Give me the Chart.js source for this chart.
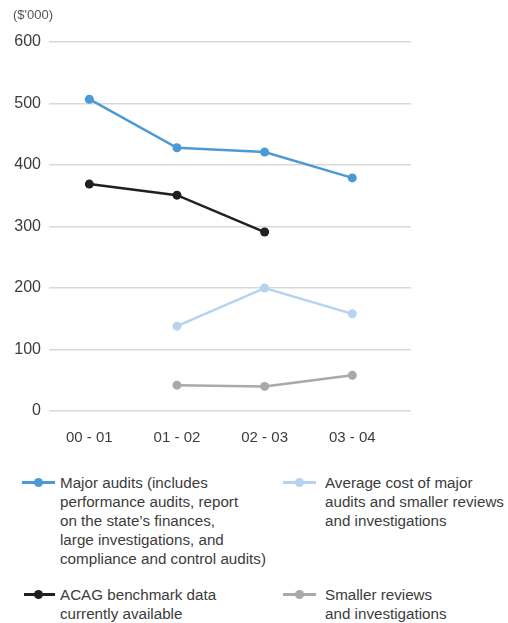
<!DOCTYPE html>
<html>
<head>
<meta charset="utf-8">
<script src="https://cdn.jsdelivr.net/npm/chart.js@4.4.0/dist/chart.umd.min.js"></script>
<style>
  body { margin: 0; background: #fff; font-family: "Liberation Sans", Arial, sans-serif; color: #3c3c3c; }
  #wrap { position: relative; width: 508px; height: 623px; }
  #chart { position: absolute; left: 0; top: 0; }
  .unit { position: absolute; left: 13px; top: 7px; font-size: 13px; color: #555; }
  .item { position: absolute; font-size: 15.2px; line-height: 19px; }
  .item .key { position: absolute; top: 8px; height: 2.5px; }
  .item .key i { position: absolute; top: -3.25px; width: 9px; height: 9px; border-radius: 50%; }
</style>
</head>
<body>
<div id="wrap">
  <canvas id="chart" width="508" height="460"></canvas>
  <div class="unit">($'000)</div>
  <div id="legend"></div>
</div>
<script>
// categories (financial years)
var years = ['00 - 01', '01 - 02', '02 - 03', '03 - 04'];

// series values, $'000
var majorAudits = [507, 428, 421, 379];
var acagBenchmark = [369, 351, 291, null];
var averageCost = [null, 138, 200, 158];
var smallerReviews = [null, 42, 40, 58];

var yTicks = [0, 100, 200, 300, 400, 500, 600];

var series = [
    { label: ['Major audits (includes', 'performance audits, report', 'on the state\u2019s finances,', 'large investigations, and', 'compliance and control audits)'],
      data: majorAudits, color: '#4b9ad5', width: 2.5, pos: [22, 473] },
    { label: ['Average cost of major', 'audits and smaller reviews', 'and investigations'],
      data: averageCost, color: '#b6d4ef', width: 2.5, pos: [283, 473] },
    { label: ['ACAG benchmark data', 'currently available'],
      data: acagBenchmark, color: '#231f20', width: 2.5, pos: [24, 585] },
    { label: ['Smaller reviews', 'and investigations'],
      data: smallerReviews, color: '#a8a9ad', width: 2.5, pos: [283, 585] }
];

function toPoints(arr) {
    var pts = [];
    arr.forEach(function (v, i) {
        if (v !== null) pts.push({ x: i, y: v });
    });
    return pts;
}

var ctx = document.getElementById('chart').getContext('2d');
var myChart = new Chart(ctx, {
    type: 'line',
    data: {
        datasets: series.map(function (s) {
            return {
                label: s.label.join(' '),
                data: toPoints(s.data),
                borderColor: s.color,
                backgroundColor: s.color,
                borderWidth: s.width,
                pointRadius: 4.5,
                pointBorderWidth: 0,
                tension: 0
            };
        })
    },
    options: {
        responsive: false,
        animation: false,
        layout: { padding: { top: 42, right: 97, bottom: 9, left: 0 } },
        plugins: { legend: { display: false }, tooltip: { enabled: false } },
        scales: {
            x: {
                type: 'linear',
                min: -0.46,
                max: 3.67,
                afterBuildTicks: function (s) {
                    s.ticks = years.map(function (y, i) { return { value: i }; });
                },
                afterFit: function (s) { s.height = 40; },
                grid: { display: false },
                border: { display: false },
                ticks: {
                    padding: 10,
                    color: '#3c3c3c',
                    font: { family: 'Liberation Sans', size: 15 },
                    callback: function (v) { return years[v]; }
                }
            },
            y: {
                min: 0,
                max: 600,
                afterBuildTicks: function (s) {
                    s.ticks = yTicks.map(function (v) { return { value: v }; });
                },
                afterFit: function (s) { s.width = 49; },
                grid: { color: '#d9d9d9', lineWidth: 1.5, drawTicks: false },
                border: { display: false },
                ticks: {
                    padding: 8,
                    color: '#3c3c3c',
                    font: { family: 'Liberation Sans', size: 16 }
                }
            }
        }
    }
});

// legend below the plot, two columns
var legend = document.getElementById('legend');
series.forEach(function (s) {
    var div = document.createElement('div');
    div.className = 'item';
    div.style.left = s.pos[0] + 'px';
    div.style.top = s.pos[1] + 'px';
    div.style.paddingLeft = (s.pos[0] === 283 ? 42 : 38 - (s.pos[0] - 22)) + 'px';
    div.innerHTML = '<span class="key" style="left:0;width:' + (s.pos[0] === 24 ? 31 : 33) + 'px;background:' + s.color +
        '"><i style="left:' + (s.pos[0] === 24 ? 10 : 12) + 'px;background:' + s.color + '"></i></span>' +
        s.label.join('<br>');
    legend.appendChild(div);
});
</script>
</body>
</html>
